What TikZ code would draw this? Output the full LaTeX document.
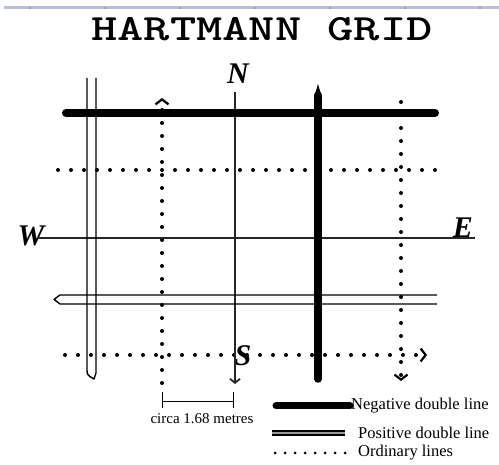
\documentclass[tikz,border=0pt]{standalone}
\usepackage{fontspec}
\setmainfont{Liberation Serif}
\usetikzlibrary{arrows.meta}
\definecolor{rulerblue}{RGB}{186,190,222}
\tikzset{
  negline/.style  = {line width=8pt, line cap=round},
  posline/.style  = {line width=1.4pt, line join=round},
  ordinary/.style = {line width=4pt, line cap=round, dash pattern=on 0pt off 13pt},
  axis/.style     = {line width=1.1pt, black!85},
  compass/.style  = {font=\fontsize{30}{30}\selectfont\bfseries\itshape, inner sep=0pt},
  legend/.style   = {font=\fontsize{16.5}{16.5}\selectfont, anchor=west, inner sep=0pt},
  barb/.style     = {-{Straight Barb[length=5pt, width=13pt, line width=2.2pt]}},
}

\begin{document}
\begin{tikzpicture}[x=1pt, y=-1pt]
  \useasboundingbox (0,0) rectangle (499,465);

  % ruler strip at the top
  \draw[rulerblue, line width=3pt] (4,8) -- (499,8);
  \foreach \x in {30,105,...,480}
    \fill[gray] (\x,8) circle (0.8pt);

  % title
  \node[font=\ttfamily\bfseries\fontsize{37}{37}\selectfont] (title) at (262,29)
    {\scalebox{1.35}[1]{HARTMANN GRID}};

  % compass letters
  \node[compass] (N) at (238,74)  {N};
  \node[compass] (W) at (31,236)  {W};
  \node[compass] (E) at (463,228) {E};
  \node[compass] (S) at (243,356) {S};

  % ends of the grid lines
  \coordinate (dotAs) at (162,383);  \coordinate (dotAn) at (162,98);
  \coordinate (dotBn) at (401,102);  \coordinate (dotBs) at (401,381);
  \coordinate (dotCw) at (58,170);   \coordinate (dotCe) at (442,170);
  \coordinate (dotDw) at (65,355);   \coordinate (dotDe) at (427,355);
  \coordinate (nsTop) at (235,92);   \coordinate (nsBot) at (235,384);
  \coordinate (weLeft) at (38,238);  \coordinate (weRight) at (475,238);
  \coordinate (negW) at (66,113);    \coordinate (negE) at (435,113);
  \coordinate (negN) at (318,95);    \coordinate (negS) at (318,379);

  % ordinary lines
  \draw[ordinary, barb] (dotAs) -- (dotAn);
  \draw[ordinary, barb] (dotBn) -- (dotBs);
  \draw[ordinary] (dotCw) -- (dotCe);
  \draw[ordinary, barb] (dotDw) -- (dotDe);

  % north-south and west-east
  \draw[axis, -{Straight Barb[length=4pt, width=10pt, line width=1.8pt]}] (nsTop) -- (nsBot);
  \draw[axis] (weLeft) -- (weRight);

  % positive double lines
  \draw[posline] (87,78) -- (87,368) .. controls (87,375) .. (94,379) -- (96,373) -- (96,78);
  \draw[posline] (437,295) -- (60,295) -- (54,299.5) -- (60,304) -- (437,304);

  % negative double lines
  \draw[negline] (negW) -- (negE);
  \draw[negline, line width=7.5pt] (negN) -- (negS);
  \fill (314.2,97) -- (318,84) -- (321.8,97) -- cycle;

  % scale bar
  \coordinate (barL) at (162,402);
  \coordinate (barR) at (233,402);
  \draw[line width=1pt] (162,392) -- (162,408) (barL) -- (barR) (233,392) -- (233,408);
  \node[font=\fontsize{15}{15}\selectfont] (scale) at (202,419) {circa 1.68 metres};

  % legend
  \coordinate (keyNegL) at (276,406); \coordinate (keyNegR) at (350,406);
  \coordinate (keyPosL) at (272,433); \coordinate (keyPosR) at (345,433);
  \coordinate (keyOrdL) at (275,453); \coordinate (keyOrdR) at (348,453);
  \draw[negline, line width=7pt] (keyNegL) -- (keyNegR);
  \draw[double=black!40, double distance=2.5pt, line width=1.3pt] (keyPosL) -- (keyPosR);
  \draw[ordinary, line width=3pt, dash pattern=on 0pt off 10pt] (keyOrdL) -- (keyOrdR);
  \node[legend] (negtxt) at (351,406) {Negative double line};
  \node[legend] (postxt) at (358,433) {Positive double line};
  \node[legend] (ordtxt) at (358,453) {Ordinary lines};

\end{tikzpicture}
\end{document}
